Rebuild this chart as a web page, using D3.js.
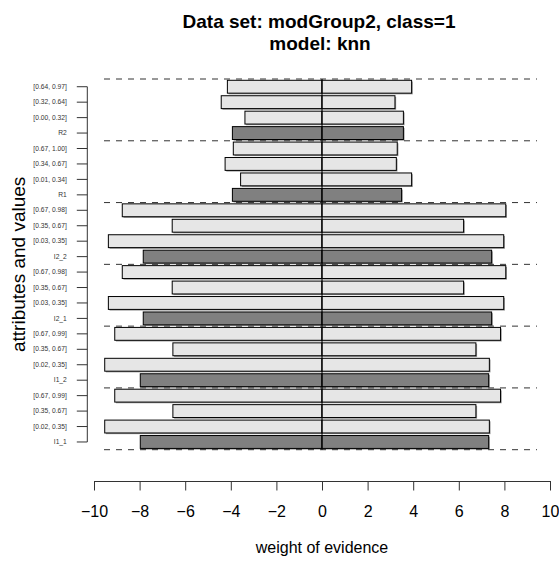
<!DOCTYPE html>
<html>
<head>
<meta charset="utf-8">
<script src="https://cdn.jsdelivr.net/npm/d3@7"></script>
<style>
  body { margin: 0; background: #fff; }
  svg { display: block; font-family: "Liberation Sans", Arial, Helvetica, sans-serif; }
</style>
</head>
<body>
<div id="chart"></div>
<script>
// rows listed top to bottom
const labels = [
  "[0.64, 0.97]", "[0.32, 0.64]", "[0.00, 0.32]", "R2",
  "[0.67, 1.00]", "[0.34, 0.67]", "[0.01, 0.34]", "R1",
  "[0.67, 0.98]", "[0.35, 0.67]", "[0.03, 0.35]", "I2_2",
  "[0.67, 0.98]", "[0.35, 0.67]", "[0.03, 0.35]", "I2_1",
  "[0.67, 0.99]", "[0.35, 0.67]", "[0.02, 0.35]", "I1_2",
  "[0.67, 0.99]", "[0.35, 0.67]", "[0.02, 0.35]", "I1_1"
];
const isAttribute = [
  0, 0, 0, 1, 0, 0, 0, 1, 0, 0, 0, 1,
  0, 0, 0, 1, 0, 0, 0, 1, 0, 0, 0, 1
];
const negValues = [
  -4.15, -4.42, -3.38, -3.93,
  -3.89, -4.25, -3.57, -3.93,
  -8.76, -6.57, -9.37, -7.84,
  -8.76, -6.57, -9.37, -7.84,
  -9.09, -6.54, -9.53, -7.97,
  -9.09, -6.54, -9.53, -7.97
];
const posValues = [
  3.93, 3.20, 3.57, 3.57,
  3.30, 3.26, 3.93, 3.49,
  8.06, 6.21, 7.97, 7.44,
  8.06, 6.21, 7.97, 7.44,
  7.83, 6.75, 7.34, 7.31,
  7.83, 6.75, 7.34, 7.31
];
const xTicks = [-10, -8, -6, -4, -2, 0, 2, 4, 6, 8, 10];
const groupSize = 4;

const width = 559, height = 563;
const plotLeft = 104, plotRight = 537, plotTop = 79, plotBottom = 449.7;

const data = labels.map((l, i) => ({
  idx: i, label: l, attr: isAttribute[i] === 1, neg: negValues[i], pos: posValues[i]
}));

const x = d3.scaleLinear().domain([-10, 10]).range([94, 550]);
const y = d3.scaleBand()
  .domain(data.map(d => d.idx))
  .range([plotTop, plotBottom])
  .paddingInner(0.2 / 1.2)
  .paddingOuter(0.1 / 1.2);
const step = y.step();
const bw = y.bandwidth();

const svg = d3.select("#chart").append("svg")
  .attr("width", width)
  .attr("height", height);

// title
const title = svg.append("text")
  .attr("text-anchor", "middle")
  .attr("font-weight", "bold")
  .attr("font-size", "19px")
  .attr("fill", "#000");
title.append("tspan").attr("x", 319).attr("y", 27.5).text("Data set: modGroup2, class=1");
title.append("tspan").attr("x", 320).attr("y", 49.5).text("model: knn");

// bars: shadow then the bar itself
const bars = svg.append("g");
data.forEach(d => {
  [d.neg, d.pos].forEach(v => {
    const x0 = x(Math.min(0, v)), x1 = x(Math.max(0, v));
    bars.append("rect")
      .attr("x", x0 + 1.2).attr("y", y(d.idx) + 1.2)
      .attr("width", x1 - x0).attr("height", bw)
      .attr("fill", "#9a9a9a");
    bars.append("rect")
      .attr("x", x0).attr("y", y(d.idx))
      .attr("width", x1 - x0).attr("height", bw)
      .attr("fill", d.attr ? "#808080" : "#e6e6e6")
      .attr("stroke", "#000")
      .attr("stroke-width", 1);
  });
});

// group separators
const seps = d3.range(0, labels.length + 1, groupSize).map(k => plotTop + k * step);
svg.append("g").selectAll("line")
  .data(seps)
  .join("line")
  .attr("x1", plotLeft).attr("x2", plotRight)
  .attr("y1", d => d).attr("y2", d => d)
  .attr("stroke", "#333")
  .attr("stroke-width", 1)
  .attr("stroke-dasharray", "6,6");

// zero line
svg.append("line")
  .attr("x1", x(0)).attr("x2", x(0))
  .attr("y1", plotTop).attr("y2", plotBottom)
  .attr("stroke", "#000")
  .attr("stroke-width", 1);

// x axis
const gx = svg.append("g")
  .attr("transform", "translate(0,481)")
  .call(d3.axisBottom(x).tickValues(xTicks).tickSize(9.5).tickSizeOuter(0)
    .tickFormat(d => d < 0 ? "\u2212" + Math.abs(d) : d));
gx.select(".domain").attr("stroke", "#333");
gx.selectAll(".tick line").attr("stroke", "#333");
gx.selectAll(".tick text")
  .attr("font-size", "16px")
  .attr("font-family", "'Liberation Sans', Arial, Helvetica, sans-serif")
  .attr("fill", "#000")
  .attr("dy", null)
  .attr("y", 36);

svg.append("text")
  .attr("x", x(0)).attr("y", 553)
  .attr("text-anchor", "middle")
  .attr("font-size", "16px")
  .attr("fill", "#000")
  .text("weight of evidence");

// y axis
const gy = svg.append("g")
  .attr("transform", "translate(87.3,0)")
  .call(d3.axisLeft(y).tickSize(10.5).tickSizeOuter(0)
    .tickFormat(i => labels[i]));
gy.select(".domain")
  .attr("d", `M0,${y(0) + bw / 2}V${y(labels.length - 1) + bw / 2}`)
  .attr("stroke", "#333");
gy.selectAll(".tick line").attr("stroke", "#333");
gy.selectAll(".tick text")
  .attr("font-size", "6.7px")
  .attr("font-family", "'Liberation Sans', Arial, Helvetica, sans-serif")
  .attr("fill", "#333")
  .attr("x", -20.5);

svg.append("text")
  .attr("transform", `translate(25,${(plotTop + plotBottom) / 2}) rotate(-90)`)
  .attr("text-anchor", "middle")
  .attr("font-size", "19px")
  .attr("fill", "#000")
  .text("attributes and values");
</script>
</body>
</html>
